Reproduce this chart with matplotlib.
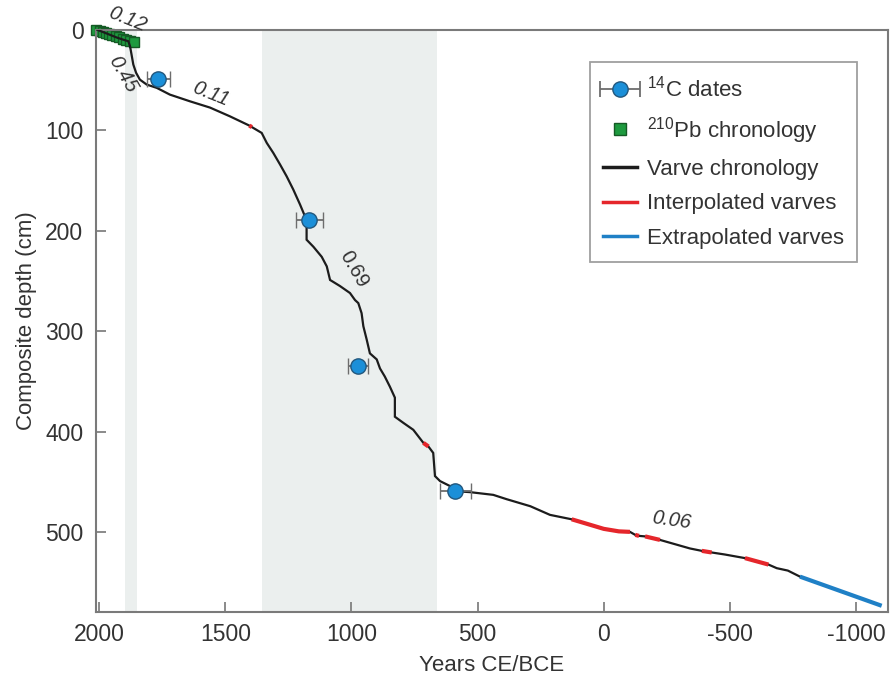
import matplotlib
matplotlib.use("Agg")
import matplotlib.pyplot as plt
import numpy as np
from matplotlib.lines import Line2D
from matplotlib.legend_handler import HandlerErrorbar

plt.rcParams["font.family"] = ["Liberation Sans", "DejaVu Sans"]
plt.rcParams["mathtext.default"] = "regular"
plt.rcParams["axes.unicode_minus"] = False

# Varve chronology: year (CE/BCE as signed year) vs composite depth (cm)
varve_year = [2010, 1990, 1960, 1930, 1900, 1885, 1878, 1872, 1865, 1854, 1839,
              1812, 1772, 1720, 1640, 1561, 1482, 1405, 1395, 1356, 1336, 1310,
              1283, 1257, 1231, 1204, 1184, 1178, 1178, 1151, 1118, 1098, 1085,
              1046, 1006, 986, 973, 960, 953, 940, 927, 900, 887, 868, 848, 828,
              828, 795, 755, 715, 695, 676, 669, 649, 609, 588, 530, 438, 385,
              291, 213, 127, 60, 0, -60, -104, -125, -140, -164, -223, -342,
              -389, -428, -480, -560, -653, -686, -730, -778]
varve_depth = [0, 2, 5, 8, 10.5, 11.6, 16.6, 24.9, 34.8, 43, 49.8,
               54.7, 58, 64.7, 71.4, 77.6, 86.3, 95.5, 97, 102.8, 112.7, 122.7,
               134.3, 146, 159, 174, 186, 196, 209, 216, 226, 235.5, 249,
               255, 262, 269, 272, 282, 295, 308, 322, 328, 337, 345, 355, 366,
               385, 391, 398, 411, 414.6, 421, 444, 449, 454, 459, 460, 462.7, 467,
               474, 482.6, 487, 492, 496.5, 499, 499.5, 502.5, 503.5, 504, 507.5, 516,
               518.4, 520, 522, 525.6, 532, 535.6, 538, 544]

# Year ranges where varve counts were interpolated
interp_ranges = [(1405, 1395), (715, 695), (127, -104), (-125, -140),
                 (-164, -223), (-389, -428), (-560, -653)]

# Extrapolated varves below the counted section
extrap_year = [-778, -1102]
extrap_depth = [544, 573]

# 210Pb chronology
pb_year = [2011, 1999, 1987, 1974, 1961, 1948, 1935, 1921, 1907, 1893, 1879, 1864]
pb_depth = [0.3, 1.3, 2.4, 3.5, 4.6, 5.7, 6.8, 7.9, 9.0, 10.2, 11.4, 12.6]

# 14C dates with 1-sigma age ranges
c14_year = [1766, 1167, 975, 588]
c14_depth = [49, 189, 335, 459]
c14_err = [45, 53, 40, 62]

# Shaded intervals
shade_ranges = [(1898, 1852), (1354, 660)]

# Sedimentation rates (cm/yr) with label positions
rate_text = ["0.12", "0.45", "0.11", "0.69", "0.06"]
rate_year = [1890, 1906, 1557, 990, -267]
rate_depth = [-10, 45, 64, 238, 488]
rate_rot = [-22, -60, -22, -60, -8]
rate_style = ["italic", "italic", "italic", "normal", "italic"]

fig = plt.figure(figsize=(8.92, 6.76), dpi=100)
ax = fig.add_axes([0.1076, 0.0942, 0.8879, 0.8621])

for a, b in shade_ranges:
    ax.axvspan(a, b, color="#ebefee", lw=0, zorder=0)

vy = np.array(varve_year, float)
vd = np.array(varve_depth, float)
ax.plot(vy, vd, color="#1c1c1c", lw=1.6, zorder=3, solid_joinstyle="miter")
for a, b in interp_ranges:
    m = (vy <= a) & (vy >= b)
    ax.plot(vy[m], vd[m], color="#e5262b", lw=3.0, zorder=4,
            solid_capstyle="butt")
ax.plot(extrap_year, extrap_depth, color="#1f80c6", lw=3.0, zorder=4,
        solid_capstyle="butt")

ax.plot(pb_year, pb_depth, ls="none", marker="s", ms=7.5, mfc="#1e9a3f",
        mec="#155a25", mew=1.0, zorder=2, clip_on=False)

ax.errorbar(c14_year, c14_depth, xerr=c14_err, fmt="o", ms=11,
            mfc="#1b8fd8", mec="#22577d", mew=1.0, ecolor="#6d6d6d",
            elinewidth=1.3, capsize=6, capthick=1.3, zorder=5)

for t, x, y, r, s in zip(rate_text, rate_year, rate_depth, rate_rot, rate_style):
    ax.text(x, y, t, rotation=r, fontsize=14.5, style=s, color="#333333",
            ha="center", va="center", rotation_mode="anchor", zorder=6,
            clip_on=False)

ax.set_xlim(2013, -1127)
ax.set_ylim(579.5, 0)
ax.set_xticks([2000, 1500, 1000, 500, 0, -500, -1000])
ax.set_yticks([0, 100, 200, 300, 400, 500])
ax.tick_params(direction="in", length=7, width=1.2, colors="#777777",
               labelcolor="#333333", labelsize=16.5)
ax.tick_params(axis="y", pad=9)
ax.tick_params(axis="x", pad=8)
for sp in ax.spines.values():
    sp.set_color("#7a7a7a")
    sp.set_linewidth(1.5)

ax.set_xlabel("Years CE/BCE", fontsize=16, color="#333333", labelpad=6)
ax.set_ylabel("Composite depth (cm)", fontsize=16, color="#333333", labelpad=6)

# legend handle for the 14C dates, drawn with its horizontal error bar
h_c14 = ax.errorbar([np.nan], [np.nan], xerr=[1.0], fmt="o", ms=11,
                    mfc="#1b8fd8", mec="#22577d", ecolor="#6d6d6d",
                    capsize=6, elinewidth=1.3, capthick=1.3)
handles = [
    h_c14,
    Line2D([], [], ls="none", marker="s", ms=8, mfc="#1e9a3f", mec="#155a25"),
    Line2D([], [], color="#1c1c1c", lw=2.5),
    Line2D([], [], color="#e5262b", lw=2.5),
    Line2D([], [], color="#1f80c6", lw=2.5),
]
labels = ["$^{14}$C dates", "$^{210}$Pb chronology", "Varve chronology",
          "Interpolated varves", "Extrapolated varves"]
leg = ax.legend(handles, labels, loc="upper left", bbox_to_anchor=(0.6237, 0.944),
                borderaxespad=0, fancybox=False, frameon=True, fontsize=16,
                handlelength=1.5, handletextpad=0.45, labelspacing=0.6,
                borderpad=0.6,
                handler_map={type(h_c14): HandlerErrorbar(xerr_size=0.9)})
leg.get_frame().set_edgecolor("#888888")
leg.get_frame().set_linewidth(1.3)
for txt in leg.get_texts():
    txt.set_color("#333333")

fig.savefig("out.png", dpi=100)
